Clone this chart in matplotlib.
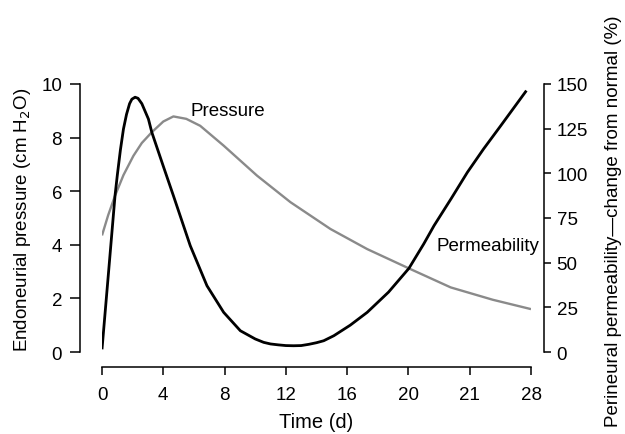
import matplotlib
matplotlib.use('Agg')
import matplotlib.pyplot as plt

# values
perm_days = [0.0, 0.5, 0.85, 1.0, 1.2, 1.4, 1.6, 1.8, 1.95, 2.16, 2.35, 2.6, 2.8, 3.03,
             3.25, 4.0, 4.66, 5.76, 6.85, 7.94, 9.03, 10.0, 10.55, 11.0, 11.5, 12.0,
             12.5, 13.0, 13.5, 14.0, 14.47, 15.13, 16.2, 17.31, 18.7, 20.03, 21.0,
             21.67, 22.8, 23.85, 24.9, 26.03, 27.7]
perm_pct = [1.5, 52, 87.5, 99, 113, 124.8, 133, 139, 141.5, 142.6, 142, 139, 135, 130.4,
            123, 104, 87.5, 59.5, 37.1, 22.2, 11.9, 7.3, 5.4, 4.5, 4.0, 3.6,
            3.5, 3.6, 4.3, 5.2, 6.3, 9.1, 15, 22.2, 33.5, 46.8, 60.5,
            70.7, 86, 100.6, 113.6, 126.7, 146.3]

pres_days = [0.0, 0.4, 0.85, 1.4, 2.05, 2.6, 3.25, 4.0, 4.66, 5.5, 6.41, 7.94, 10.12,
             12.3, 14.91, 17.31, 20.03, 22.76, 25.5, 28.0]
pres_cm = [4.35, 5.1, 5.83, 6.6, 7.32, 7.8, 8.2, 8.6, 8.79, 8.7, 8.44, 7.70, 6.58,
           5.59, 4.59, 3.84, 3.12, 2.41, 1.95, 1.6]

xticks = [0, 4, 8, 12, 16, 20, 24, 28]
xtick_labels = ['0', '4', '8', '12', '16', '20', '21', '28']

plt.rcParams['font.family'] = ['Liberation Sans', 'DejaVu Sans']
fs = 13.5

fig = plt.figure(figsize=(6.25, 4.35), dpi=100)
ax = fig.add_axes([102 / 625, 1 - 353 / 435, 429 / 625, 268 / 435])
ax2 = ax.twinx()

ax.plot(pres_days, pres_cm, color='#8a8a8a', lw=1.7, solid_capstyle='butt')
ax2.plot(perm_days, perm_pct, color='black', lw=2.0, solid_capstyle='butt')

ax.set_xlim(0, 28)
ax.set_ylim(0, 10)
ax2.set_ylim(0, 150)

ax.set_xticks(xticks)
ax.set_xticklabels(xtick_labels)
ax.set_yticks(range(0, 11, 2))
ax2.set_yticks(range(0, 151, 25))

for s in ['top', 'right']:
    ax.spines[s].set_visible(False)
for s in ['top', 'left', 'bottom']:
    ax2.spines[s].set_visible(False)

ax.spines['left'].set_position(('outward', 15.8))
ax.spines['left'].set_bounds(0, 10)
ax.spines['bottom'].set_position(('outward', 10.8))
ax.spines['bottom'].set_bounds(0, 28)
ax2.spines['right'].set_position(('outward', 9.4))
ax2.spines['right'].set_bounds(0, 150)
for sp in [ax.spines['left'], ax.spines['bottom'], ax2.spines['right']]:
    sp.set_linewidth(1.1)

ax.tick_params(axis='y', length=7, width=1.1, pad=6, labelsize=fs)
ax.tick_params(axis='x', length=6, width=1.1, pad=8, labelsize=fs)
ax2.tick_params(axis='y', length=5, width=1.1, pad=4, labelsize=fs)

ax.set_xlabel('Time (d)', fontsize=14.5, labelpad=6)
fig.text(23 / 625, 1 - 220 / 435, 'Endoneurial pressure (cm H$_2$O)', rotation=90,
         ha='center', va='center', fontsize=fs)
fig.text(614 / 625, 1 - 221 / 435, 'Perineural permeability\u2014change from normal (%)',
         rotation=90, ha='center', va='center', fontsize=fs)

ax.text(5.76, 9.0, 'Pressure', fontsize=fs, ha='left', va='center')
ax.text(21.8, 3.96, 'Permeability', fontsize=fs, ha='left', va='center')

fig.savefig('out.png', dpi=100)
